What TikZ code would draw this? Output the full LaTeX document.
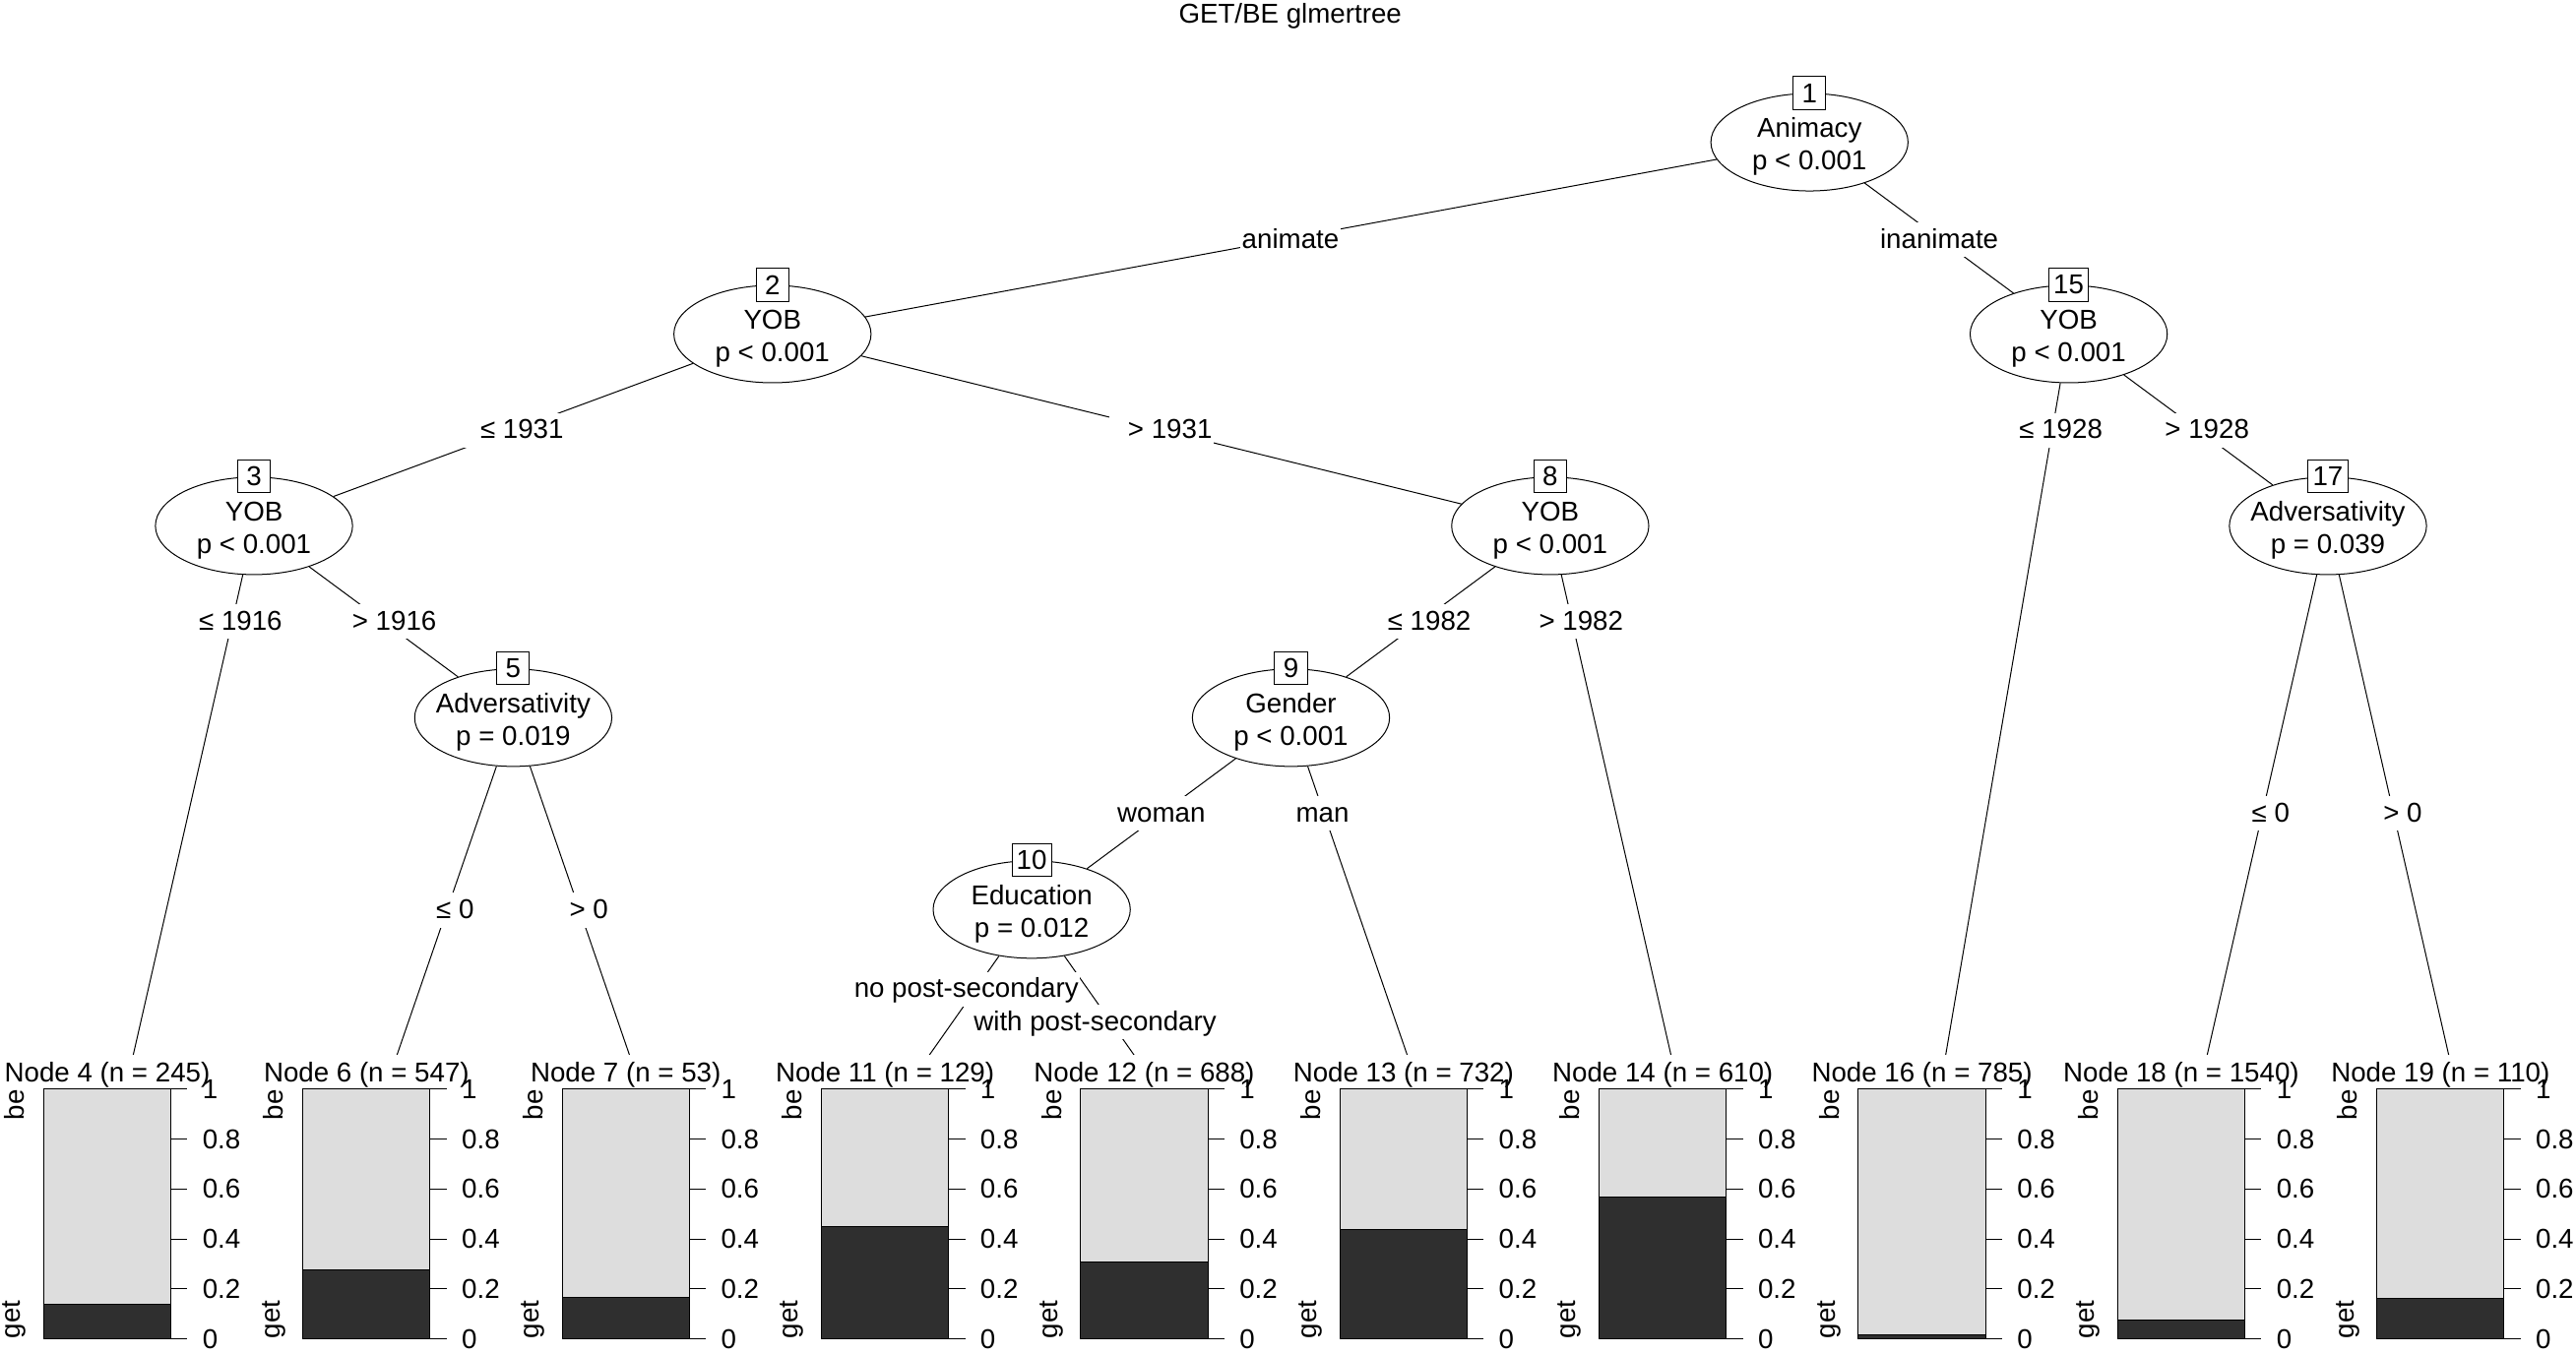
\documentclass[tikz,border=0pt]{standalone}
\usepackage{fontspec}
\setmainfont{Liberation Sans}
\usetikzlibrary{shapes.geometric}

\definecolor{barlight}{RGB}{221,221,221}
\definecolor{bardark}{RGB}{47,47,47}
\newcommand{\cutle}{\hspace*{8pt}≤\ }
\newcommand{\cutgt}{\hspace*{8pt}>\ }

\begin{document}
\begin{tikzpicture}[x=0.75pt,y=-0.75pt,line width=0.45pt,
  font=\fontsize{12.45}{14.94}\selectfont,
  split/.style={ellipse,draw,fill=white,minimum width=90pt,minimum height=44.5pt,inner sep=0pt},
  idbox/.style={draw,fill=white,minimum width=14.9pt,minimum height=14.9pt,inner xsep=2.1pt,inner ysep=0pt},
  edgelab/.style={fill=white,inner xsep=0.6pt,inner ysep=1.5pt,text height=10.2pt,text depth=2.6pt},
  ticklab/.style={anchor=west,inner sep=0pt}]
  \useasboundingbox (0,0) rectangle (1568,824);
  \node[anchor=base] (title) at (785.3,14) {GET/BE glmertree};
  % ends of the edges to the terminal panels
  \foreach \i/\id in {1/4,2/6,3/7,4/11,5/12,6/13,7/14,8/16,9/18,10/19}
    \coordinate (t\id) at ({75.7+157.8*(\i-1)},666);
  % inner nodes
  \foreach \id/\x/\y/\var/\pv in {1/1101.4/86.6/Animacy/{p < 0.001},
      2/470.2/203.4/YOB/{p < 0.001}, 15/1259.2/203.4/YOB/{p < 0.001},
      3/154.6/320.2/YOB/{p < 0.001}, 8/943.6/320.2/YOB/{p < 0.001},
      17/1417/320.2/Adversativity/{p = 0.039}, 5/312.4/437/Adversativity/{p = 0.019},
      9/785.8/437/Gender/{p < 0.001}, 10/628/553.8/Education/{p = 0.012}}
  {
    \node[split] (n\id) at (\x,\y) {};
    \node[anchor=base] (v\id) at (\x,\y-3.1) {\var};
    \node[anchor=base] (p\id) at (\x,\y+16.6) {\pv};
    \node[idbox] (b\id) at (n\id.north) {\id};
  }
  % edges
  \foreach \a/\b in {n1/n2,n1/n15,n2/n3,n2/n8,n3/t4,n3/n5,n5/t6,n5/t7,n8/n9,n8/t14,
      n9/n10,n9/t13,n10/t11,n10/t12,n15/t16,n15/n17,n17/t18,n17/t19}
    \draw (\a) -- (\b);
  % edge labels
  \foreach \nm/\x/\y/\txt in {l2/785.5/146/animate, l15/1180.4/146/inanimate,
      l3/312.4/262/\cutle 1931, l8/706.9/262/\cutgt 1931,
      l16/1249.1/262/\cutle 1928, l17/1338.1/262/\cutgt 1928,
      l4/141.1/378.6/\cutle 1916, l5/234.7/378.6/\cutgt 1916,
      l9/864.7/378.6/\cutle 1982, l14/957.1/378.6/\cutgt 1982,
      l10/706.9/495.4/woman, l13/805/495.4/man,
      l18/1376.8/495.4/\cutle 0, l19/1457.2/495.4/\cutgt 0,
      l6/271.7/554.2/\cutle 0, l7/353.1/554.2/\cutgt 0,
      l11/588.2/602.4/no post-secondary, l12/666.6/622.3/with post-secondary}
    \node[edgelab] (\nm) at (\x,\y) {\txt};
  % terminal panels
  \foreach \i/\id/\nn/\f in {1/4/245/0.137,2/6/547/0.278,3/7/53/0.167,4/11/129/0.448,
      5/12/688/0.307,6/13/732/0.438,7/14/610/0.569,8/16/785/0.017,9/18/1540/0.076,10/19/110/0.162}
  {
    \pgfmathsetmacro{\T}{75.7+157.8*(\i-1)}
    \pgfmathsetmacro{\L}{\T-49.1}
    \pgfmathsetmacro{\R}{\T+28.3}
    \pgfmathsetmacro{\G}{815.3-152.2*\f}
    \fill[white] (\T-79,642) rectangle (\T+79,824);
    \fill[barlight] (\L,663.1) rectangle (\R,\G);
    \fill[bardark] (\L,\G) rectangle (\R,815.3);
    \draw (\L,\G) -- (\R,\G);
    \draw (\L,663.1) rectangle (\R,815.3);
    \node[anchor=base] (h\id) at ({(\L+\R)/2},659) {Node \id\ (n = \nn)};
    \node[rotate=90,anchor=east,inner sep=0pt] (be\id) at (\L-17.8,663.1) {be};
    \node[rotate=90,anchor=west,inner sep=0pt] (get\id) at (\L-17.8,815.3) {get};
    \foreach \k/\v in {0/0,1/0.2,2/0.4,3/0.6,4/0.8,5/1}
    {
      \draw (\R,815.3-30.44*\k) -- (\R+10.1,815.3-30.44*\k);
      \node[ticklab] (y\id-\k) at (\R+19,815.3-30.44*\k) {\v};
    }
  }
\end{tikzpicture}
\end{document}
